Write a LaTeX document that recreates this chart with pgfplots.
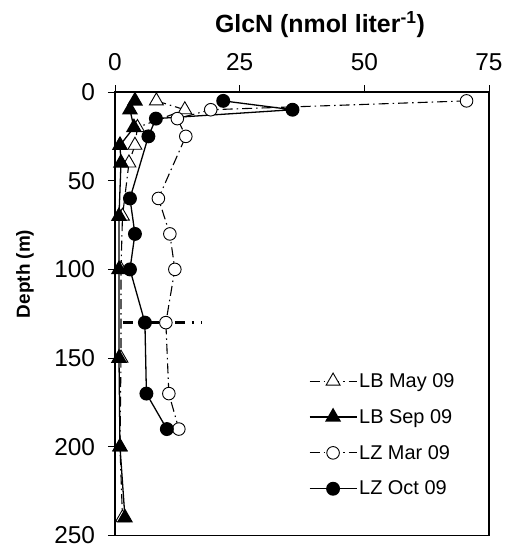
\documentclass[border=0pt]{standalone}
\usepackage{pgfplots}
\pgfplotsset{compat=1.18}
\usepackage{fontspec}
\setmainfont{Liberation Sans}
\begin{document}
\begin{tikzpicture}
\useasboundingbox (0bp,0bp) rectangle (505bp,545bp);
\begin{axis}[
 at={(115bp,9.5bp)}, anchor=south west,
 scale only axis, width=374bp, height=443.5bp,
 xmin=0, xmax=75, ymin=0, ymax=250, y dir=reverse,
 xtick={0,25,50,75}, ytick={0,50,100,150,200,250},
 xtick pos=upper, xticklabel pos=upper, ytick pos=lower,
 tick align=outside, major tick length=7bp,
 axis line style={line width=1.3bp},
 tick style={line width=0.8bp, black},
 ticklabel style={font=\fontsize{24.5}{24.5}\selectfont},
 xticklabel style={yshift=11bp},
 yticklabel style={xshift=-9.5bp},
 /pgf/number format/assume math mode=true,
 xlabel={\textbf{GlcN (nmol liter\textsuperscript{-1})}},
 xlabel style={font=\fontsize{25}{25}\selectfont, at={(axis description cs:0.548,1.135)}, anchor=base},
 ylabel={\textbf{Depth (m)}},
 ylabel style={font=\fontsize{19}{19}\selectfont, at={(axis description cs:-0.241,0.59)}, anchor=center},
 legend cell align=left,
 legend style={draw=none, fill=none, font=\fontsize{20}{22}\selectfont,
   at={(axis description cs:0.51,0.375)}, anchor=north west, row sep=16.5bp},
 legend image code/.code={\draw[mark repeat=2,mark phase=2] plot coordinates {(0bp,0bp)(23.5bp,0bp)(47bp,0bp)};},
 dashdot/.style={line width=1.1bp, dash pattern=on 10bp off 4bp on 1.5bp off 4bp},
]
\addplot[black, dashdot, mark=triangle*, mark size=8bp, mark options={solid, fill=white, line width=0.9bp}]
 coordinates {(8.3,5)(14,10)(4.5,20)(4,30)(2.8,40)(1.5,70)(1.2,100)(1.2,150)(1,200)(1.5,240)};
\addlegendentry{LB May 09}
\addplot[black, line width=1.3bp, mark=triangle*, mark size=8bp, mark options={solid, fill=black}]
 coordinates {(4,5)(3,10)(3.8,20)(1,30)(1.2,40)(0.8,70)(0.8,100)(0.8,150)(1,200)(2,240)};
\addlegendentry{LB Sep 09}
\addplot[black, dashdot, mark=*, mark size=6.3bp, mark options={solid, fill=white, line width=0.9bp}]
 coordinates {(70.5,5)(19.2,10)(12.5,15)(14.2,25)(8.7,60)(11,80)(12,100)(10.2,130)(10.8,170)(12.8,190)};
\addlegendentry{LZ Mar 09}
\addplot[black, line width=1.3bp, mark=*, mark size=6.3bp, mark options={solid, fill=black}]
 coordinates {(21.7,5)(35.6,10)(8.2,15)(6.7,25)(3,60)(4,80)(3,100)(6,130)(6.3,170)(10.4,190)};
\addlegendentry{LZ Oct 09}
\addplot[black, forget plot, line width=2.5bp, dash pattern=on 10bp off 7bp on 2bp off 7bp]
 coordinates {(1.6,130)(17.5,130)};
\end{axis}
\end{tikzpicture}
\end{document}
